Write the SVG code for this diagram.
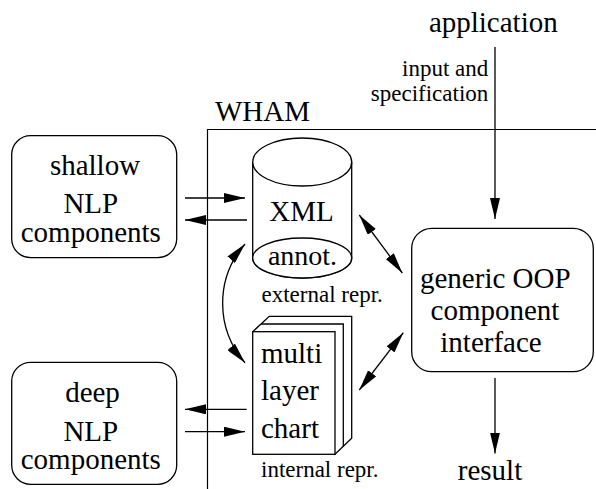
<svg xmlns="http://www.w3.org/2000/svg" width="596" height="489" viewBox="0 0 596 489">
<style>
text{fill:#000}
.big{font-size:29px}
.small{font-size:23px}
.ln{fill:none;stroke:#000;stroke-width:1.3}
.box{fill:#fff;stroke:#000;stroke-width:1.3}
.frame{fill:none;stroke:#000;stroke-width:1.2}
</style>
<defs>
<marker id="ah" markerUnits="userSpaceOnUse" markerWidth="21" markerHeight="10" refX="21" refY="5" orient="auto-start-reverse">
<path d="M0,0 L21,5 L0,10 z" fill="#000"/>
</marker>
</defs>
<g id="wham">
<path class="frame" d="M207.5,489 V129.5 H596"/>
<text class="big" font-family="Liberation Serif" x="215" y="120.5">WHAM</text>
</g>
<g id="application">
<text class="big" font-family="Liberation Serif" x="493.3" y="31.5" text-anchor="middle">application</text>
</g>
<g id="shallow">
<rect class="box" x="11.7" y="135.7" width="165" height="122" rx="19"/>
<text class="big" font-family="Liberation Serif" x="95" y="175" text-anchor="middle">shallow</text>
<text class="big" font-family="Liberation Serif" x="90.8" y="213.3" text-anchor="middle">NLP</text>
<text class="big" font-family="Liberation Serif" x="90.8" y="241.5" text-anchor="middle">components</text>
</g>
<g id="deep">
<rect class="box" x="11.7" y="362.3" width="165" height="122" rx="19"/>
<text class="big" font-family="Liberation Serif" x="92.5" y="401.7" text-anchor="middle">deep</text>
<text class="big" font-family="Liberation Serif" x="90.8" y="440.7" text-anchor="middle">NLP</text>
<text class="big" font-family="Liberation Serif" x="90.8" y="468.5" text-anchor="middle">components</text>
</g>
<g id="xml">
<path class="box" d="M252.7,162 V258 A49.5,20 0 0 0 351.7,258 V162"/>
<ellipse class="box" cx="302.2" cy="162" rx="49.5" ry="24"/>
<ellipse class="box" cx="302.2" cy="258" rx="49.5" ry="20"/>
<text class="big" font-family="Liberation Serif" x="301.5" y="220.7" text-anchor="middle">XML</text>
<text font-family="Liberation Serif" font-size="28" x="302.5" y="265" text-anchor="middle">annot.</text>
<text class="small" font-family="Liberation Serif" x="261.5" y="301.5">external repr.</text>
</g>
<g id="chart">
<path class="box" d="M252.7,331.7 L269.3,316.3 H351.7 V438.3 L335,454.3 Z"/>
<path class="ln" d="M261,324 H343.3 V446.7"/>
<rect class="box" x="252.7" y="331.7" width="82.3" height="122.6"/>
<text class="big" font-family="Liberation Serif" x="261" y="362.7">multi</text>
<text class="big" font-family="Liberation Serif" x="261" y="400">layer</text>
<text class="big" font-family="Liberation Serif" x="261" y="438.3">chart</text>
<text class="small" font-family="Liberation Serif" x="261" y="476.7">internal repr.</text>
</g>
<g id="generic">
<rect class="box" x="411.7" y="228.3" width="181.6" height="143.4" rx="20"/>
<text class="big" font-family="Liberation Serif" x="495.3" y="288.3" text-anchor="middle">generic OOP</text>
<text class="big" font-family="Liberation Serif" x="495" y="320" text-anchor="middle">component</text>
<text class="big" font-family="Liberation Serif" x="491" y="352" text-anchor="middle">interface</text>
</g>
<g id="result">
<text class="big" font-family="Liberation Serif" x="490" y="480" text-anchor="middle">result</text>
</g>
<g id="connectors">
<path class="ln" d="M495,47 V219" marker-end="url(#ah)"/>
<text class="small" font-family="Liberation Serif" x="488.3" y="75.7" text-anchor="end">input and</text>
<text class="small" font-family="Liberation Serif" x="488.3" y="101" text-anchor="end">specification</text>
<path class="ln" d="M495,378 V453.5" marker-end="url(#ah)"/>
<path class="ln" d="M185,198 H245" marker-end="url(#ah)"/>
<path class="ln" d="M247,220 H185" marker-end="url(#ah)"/>
<path class="ln" d="M246.7,409.3 H185" marker-end="url(#ah)"/>
<path class="ln" d="M185,431.7 H245" marker-end="url(#ah)"/>
<path class="ln" d="M359.3,215 L402.3,273" marker-start="url(#ah)" marker-end="url(#ah)"/>
<path class="ln" d="M359.3,390 L403.3,332.7" marker-start="url(#ah)" marker-end="url(#ah)"/>
<path class="ln" d="M245,244 A90,90 0 0 0 245,362.7" marker-start="url(#ah)" marker-end="url(#ah)"/>
</g>
</svg>
